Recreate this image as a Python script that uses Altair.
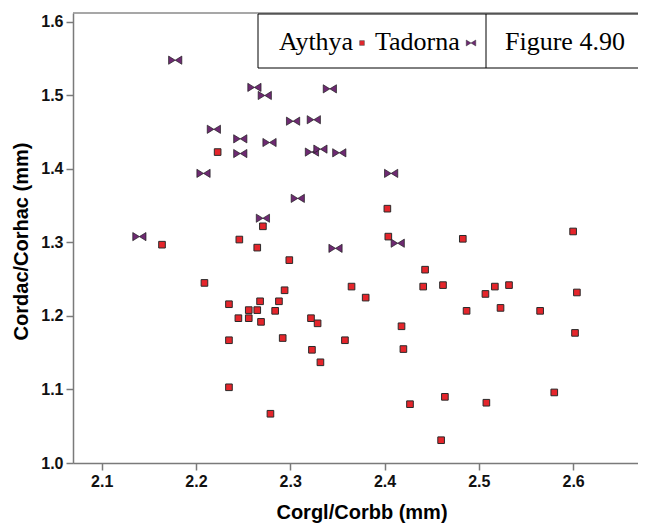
import altair as alt
import pandas as pd

# ---- data ----
aythya_x = [2.223, 2.271, 2.164, 2.246, 2.265, 2.299, 2.209, 2.294, 2.365, 2.235,
            2.268, 2.288, 2.256, 2.265, 2.284, 2.245, 2.256, 2.269, 2.322, 2.329,
            2.235, 2.292, 2.358, 2.323, 2.332, 2.235, 2.279, 2.403, 2.404, 2.483,
            2.600, 2.443, 2.441, 2.462, 2.380, 2.507, 2.517, 2.532, 2.604, 2.487,
            2.523, 2.565, 2.418, 2.602, 2.420, 2.427, 2.464, 2.508, 2.580, 2.460]
aythya_y = [1.423, 1.322, 1.297, 1.304, 1.293, 1.276, 1.245, 1.235, 1.240, 1.216,
            1.220, 1.220, 1.208, 1.208, 1.207, 1.197, 1.197, 1.192, 1.197, 1.190,
            1.167, 1.170, 1.167, 1.154, 1.137, 1.103, 1.067, 1.346, 1.308, 1.305,
            1.315, 1.263, 1.240, 1.242, 1.225, 1.230, 1.240, 1.242, 1.232, 1.207,
            1.211, 1.207, 1.186, 1.177, 1.155, 1.080, 1.090, 1.082, 1.096, 1.031]
tadorna_x = [2.178, 2.262, 2.273, 2.342, 2.303, 2.325, 2.219, 2.247, 2.278, 2.247,
             2.323, 2.332, 2.352, 2.407, 2.208, 2.308, 2.271, 2.140, 2.348, 2.414]
tadorna_y = [1.548, 1.511, 1.500, 1.509, 1.465, 1.467, 1.454, 1.441, 1.436, 1.421,
             1.423, 1.427, 1.422, 1.394, 1.394, 1.360, 1.333, 1.308, 1.292, 1.299]

x_ticks = [2.1, 2.2, 2.3, 2.4, 2.5, 2.6]
y_ticks = [1.0, 1.1, 1.2, 1.3, 1.4, 1.5, 1.6]
legend_labels = ["Aythya", "Tadorna", "Figure 4.90"]

# ---- layout / style ----
W, H = 565, 450
X_DOMAIN = [2.0696, 2.6688]
Y_DOMAIN = [1.0, 1.6122]
RED = "#e5252b"
PURPLE = "#6e2a72"
BOWTIE = "M-1,-0.62L0,0L-1,0.62Z M1,-0.62L0,0L1,0.62Z"
SERIF = "Liberation Serif"

df = pd.DataFrame({
    "x": aythya_x + tadorna_x,
    "y": aythya_y + tadorna_y,
    "species": ["Aythya"] * len(aythya_x) + ["Tadorna"] * len(tadorna_x),
})
one = pd.DataFrame({"k": [0]})

x_enc = alt.X("x:Q",
              scale=alt.Scale(domain=X_DOMAIN, nice=False, zero=False),
              axis=alt.Axis(values=x_ticks, format=".1f", title="Corgl/Corbb (mm)",
                            grid=False, titleX=288.5, titleY=55,
                            titleBaseline="alphabetic", titleAnchor="middle",
                            labelPadding=3))
y_enc = alt.Y("y:Q",
              scale=alt.Scale(domain=Y_DOMAIN, nice=False, zero=False),
              axis=alt.Axis(values=y_ticks, format=".1f", title="Cordac/Corhac (mm)",
                            grid=False, titleX=-46, titleY=228, titleAngle=-90,
                            titleBaseline="alphabetic", titleAlign="center",
                            labelPadding=3))

base = alt.Chart(df)
aythya = base.transform_filter(alt.datum.species == "Aythya").mark_point(
    shape="square", filled=True, fill=RED, stroke="#2a2a2a", strokeWidth=1,
    size=44, opacity=1
).encode(x=x_enc, y=y_enc)

tadorna = base.transform_filter(alt.datum.species == "Tadorna").mark_point(
    shape=BOWTIE, filled=True, fill=PURPLE, stroke="#1e1e1e", strokeWidth=0.7,
    size=175, opacity=1
).encode(x=x_enc, y=y_enc)

FAR = W + 60
top_line = alt.Chart(one).mark_rule(color="#8a8a8a", strokeWidth=1.5).encode(
    x=alt.value(0), x2=alt.value(FAR), y=alt.value(0))

# legend box borders drawn as rules (its right edge lies off-page)
box_top = alt.Chart(one).mark_rule(color="black", strokeWidth=1).encode(
    x=alt.value(185), x2=alt.value(FAR), y=alt.value(1))
box_bottom = alt.Chart(one).mark_rule(color="black", strokeWidth=1).encode(
    x=alt.value(185), x2=alt.value(FAR), y=alt.value(55))
box_left = alt.Chart(one).mark_rule(color="black", strokeWidth=1).encode(
    x=alt.value(185), y=alt.value(1), y2=alt.value(55))
divider = alt.Chart(one).mark_rule(color="black", strokeWidth=1).encode(
    x=alt.value(413), y=alt.value(1), y2=alt.value(55))

def label(txt, xpos):
    return alt.Chart(one).mark_text(
        font=SERIF, fontSize=26, align="left", baseline="alphabetic", color="black"
    ).encode(x=alt.value(xpos), y=alt.value(37), text=alt.value(txt))

leg_sq = alt.Chart(one).mark_point(
    shape="square", filled=True, fill=RED, stroke="#555", strokeWidth=0.6, size=22, opacity=1
).encode(x=alt.value(289), y=alt.value(30))
leg_bt = alt.Chart(one).mark_point(
    shape=BOWTIE, filled=True, fill=PURPLE, stroke="#333", strokeWidth=0.5, size=90, opacity=1
).encode(x=alt.value(398), y=alt.value(30))

chart = alt.layer(
    aythya, tadorna, top_line, box_top, box_bottom, box_left, divider,
    label(legend_labels[0], 206), leg_sq,
    label(legend_labels[1], 302), leg_bt,
    label(legend_labels[2], 432),
).properties(
    width=W, height=H,
    autosize=alt.AutoSizeParams(type="none"),
    padding={"left": 65, "top": 5, "right": 0, "bottom": 64},
).configure_view(stroke=None).configure_axis(
    domainColor="#7a7a7a", domainWidth=1.5, tickColor="#7a7a7a", tickWidth=1.5,
    tickSize=7, labelFont="Liberation Sans", labelFontSize=16, labelFontWeight="bold",
    labelColor="#111", titleFont="Liberation Sans", titleFontSize=20,
    titleFontWeight="bold", titleColor="black"
)

chart.save("out.html", embed_options={"renderer": "svg", "actions": False})
